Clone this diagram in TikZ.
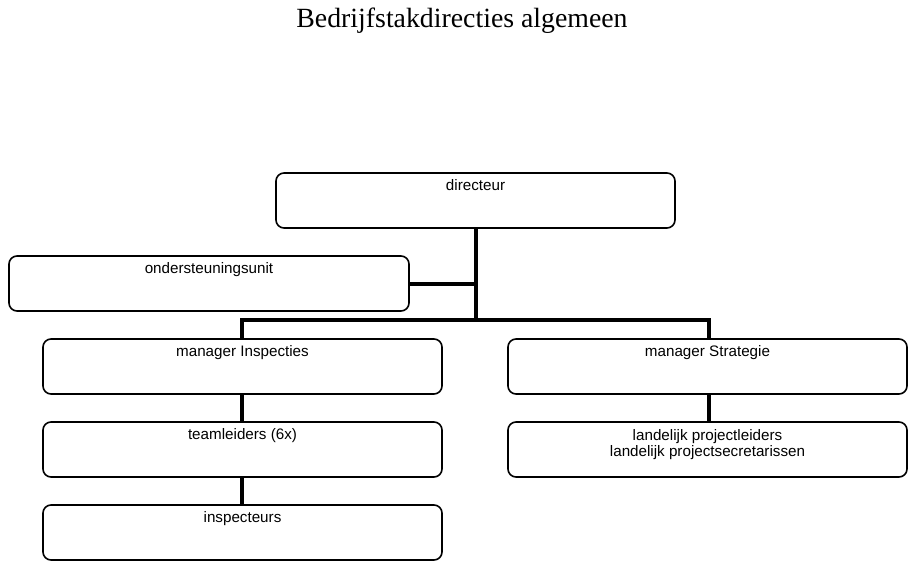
\documentclass[tikz,border=0pt]{standalone}
\usepackage{fontspec}
\setmainfont{Liberation Sans}
\newfontfamily\titlefont{Liberation Serif}
\begin{document}
\begin{tikzpicture}[x=1pt,y=-1pt,
  box/.style={draw=black, line width=1.6pt, rounded corners=8pt},
  lbl/.style={anchor=north, font=\fontsize{15.2}{16.5}\selectfont, align=center, inner sep=0pt},
  conn/.style={line width=4pt}]
\useasboundingbox (0,0) rectangle (918,573);
\node[anchor=north, font=\titlefont\fontsize{27.8}{32}\selectfont, inner sep=0pt] (title) at (462,8) {Bedrijfstakdirecties algemeen};
% boxes
\draw[box] (276,173) rectangle (675,228); \coordinate (dir) at (475.5,228);
\node[lbl] (dirt) at (475.5,179) {directeur};
\draw[box] (9,256) rectangle (409,311); \coordinate (ond) at (409,284);
\node[lbl] (ondt) at (209,262) {ondersteuningsunit};
\draw[box] (43,339) rectangle (442,394);
\node[lbl] (mit) at (242.5,345) {manager Inspecties};
\draw[box] (508,339) rectangle (907,394);
\node[lbl] (mst) at (707.5,345) {manager Strategie};
\draw[box] (43,422) rectangle (442,477);
\node[lbl] (tlt) at (242.5,428) {teamleiders (6x)};
\draw[box] (43,505) rectangle (442,560);
\node[lbl] (inst) at (242.5,511) {inspecteurs};
\draw[box] (508,422) rectangle (907,477);
\node[lbl] (lpt) at (707.5,429) {landelijk projectleiders\\landelijk projectsecretarissen};
% connectors
\coordinate (j) at (475.5,320);
\coordinate (jL) at (242,320);
\coordinate (jR) at (709,320);
\coordinate (jo) at (475.5,284);
\draw[conn] (dir) -- (j);
\draw[conn] (ond) -- (jo);
\draw[conn,line cap=rect] (jL) -- (jR);
\draw[conn] (jL) -- (242,339);
\draw[conn] (jR) -- (709,339);
\draw[conn] (242,394) -- (242,422);
\draw[conn] (242,477) -- (242,505);
\draw[conn] (709,394) -- (709,422);
\end{tikzpicture}
\end{document}
